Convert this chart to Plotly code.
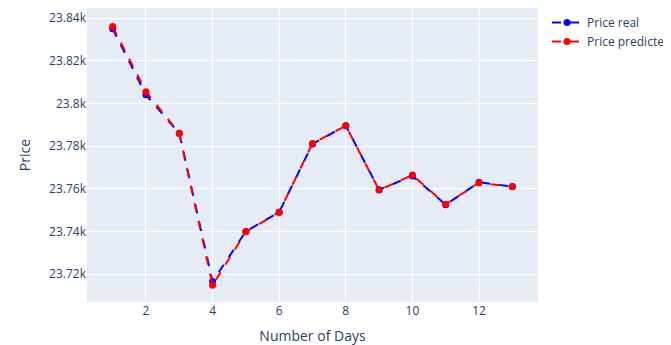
import plotly.graph_objects as go

days = list(range(1, 14))
price_real = [23835, 23804, 23786, 23716.5, 23740, 23749, 23781, 23789.5, 23759.5, 23766, 23752.5, 23763, 23761]
price_pred = [23836, 23805.5, 23786, 23714.8, 23739.8, 23749, 23781.2, 23789.5, 23759.4, 23766.4, 23752.7, 23762.8, 23760.9]

fig = go.Figure()
fig.add_trace(go.Scatter(x=days, y=price_real, mode="lines+markers", name="Price real",
                         line=dict(color="blue", dash="dash", width=2), marker=dict(size=7, color="blue")))
fig.add_trace(go.Scatter(x=days, y=price_pred, mode="lines+markers", name="Price predicted",
                         line=dict(color="red", dash="dash", width=2), marker=dict(size=7, color="red")))

fig.update_layout(
    width=663, height=337,
    template="plotly",
    margin=dict(l=79, r=133, t=0, b=43, autoexpand=False),
    xaxis=dict(title=dict(text="Number of Days"), range=[0.23, 13.77], dtick=2, tick0=0),
    yaxis=dict(title=dict(text="Price"), range=[23706.9, 23844.7], dtick=20),
    legend=dict(x=1.02, y=1, xanchor="left", yanchor="top"),
)
fig.write_html("out.html")
